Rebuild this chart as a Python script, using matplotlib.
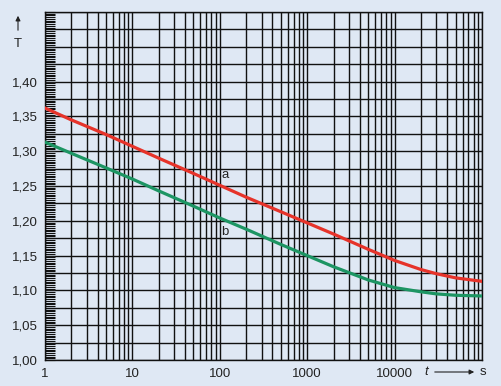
import matplotlib.pyplot as plt
from matplotlib.ticker import FixedLocator, NullFormatter, MultipleLocator

plt.rcParams['font.family'] = ['Liberation Sans', 'DejaVu Sans']

# values
t = [1, 2, 5, 10, 20, 50, 100, 200, 500, 1000, 2000, 5000, 10000, 20000, 30000, 50000, 100000]
T_a = [1.362, 1.345, 1.324, 1.307, 1.290, 1.268, 1.251, 1.234, 1.213, 1.197, 1.181, 1.159, 1.143, 1.130, 1.124, 1.118, 1.113]
T_b = [1.313, 1.297, 1.276, 1.260, 1.243, 1.221, 1.204, 1.188, 1.166, 1.150, 1.134, 1.115, 1.104, 1.098, 1.095, 1.093, 1.092]
ytick_vals = [1.00, 1.05, 1.10, 1.15, 1.20, 1.25, 1.30, 1.35, 1.40]
ytick_labels = ["1,00", "1,05", "1,10", "1,15", "1,20", "1,25", "1,30", "1,35", "1,40"]
xtick_vals = [1, 10, 100, 1000, 10000]
xtick_labels = ["1", "10", "100", "1000", "10000"]

bg = "#dfe8f4"
fig = plt.figure(figsize=(5.01, 3.86), dpi=100, facecolor=bg)
ax = fig.add_axes([45/501, 26/386, 437/501, 348/386], facecolor=bg)

ax.set_xscale("log")
ax.set_xlim(1, 100000)
ax.set_ylim(1.0, 1.5)

# grid: every log minor position and every 0.025 in T
vlines = [m * 10**d for d in range(5) for m in range(1, 10)] + [100000]
for v in vlines:
    ax.axvline(v, color="#111111", lw=1.0, zorder=1)
k = 0
while k <= 20:
    ax.axhline(1.0 + k * 0.025, color="#111111", lw=1.0, zorder=1)
    k += 1

ax.plot(t, T_a, color="#e6332a", lw=2.3, zorder=3)
ax.plot(t, T_b, color="#1d9563", lw=2.3, zorder=3)
ax.text(105, 1.262, "a", fontsize=9.5, color="#222222")
ax.text(105, 1.179, "b", fontsize=9.5, color="#222222")

ax.xaxis.set_major_locator(FixedLocator(xtick_vals))
ax.set_xticklabels(xtick_labels)
ax.xaxis.set_minor_formatter(NullFormatter())
ax.tick_params(axis="x", which="both", length=0, labelsize=9.5, pad=6, colors="#222222")
ax.set_yticks(ytick_vals)
ax.set_yticklabels(ytick_labels)
ax.yaxis.set_minor_locator(MultipleLocator(0.0025))
ax.tick_params(axis="y", which="major", direction="in", length=7, width=0.8, labelsize=9.5, pad=5, colors="#222222")
ax.tick_params(axis="y", which="minor", direction="in", length=7, width=0.8, color="#111111")
for s in ax.spines.values():
    s.set_color("#111111")
    s.set_linewidth(1.0)

# axis names with arrows
fig.text(18/501, 1 - 44/386, "T", fontsize=9.5, ha="center", va="center", color="#222222")
ax.annotate("", xy=(18/501, 1 - 13/386), xytext=(18/501, 1 - 33/386), xycoords="figure fraction",
            arrowprops=dict(arrowstyle="-|>", color="#222222", lw=0.8, mutation_scale=7))
fig.text(426/501, 1 - 372/386, "t", fontsize=9.5, style="italic", ha="center", va="center", color="#222222")
ax.annotate("", xy=(477/501, 1 - 372/386), xytext=(432/501, 1 - 372/386), xycoords="figure fraction",
            arrowprops=dict(arrowstyle="-|>", color="#222222", lw=0.8, mutation_scale=7))
fig.text(483/501, 1 - 372/386, "s", fontsize=9.5, ha="center", va="center", color="#222222")

fig.savefig("out.png", dpi=100, facecolor=bg)
